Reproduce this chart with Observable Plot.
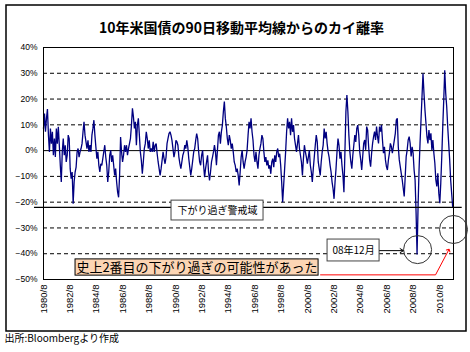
<!DOCTYPE html>
<html><head><meta charset="utf-8">
<script src="https://cdn.jsdelivr.net/npm/d3@7"></script>
<script src="https://cdn.jsdelivr.net/npm/@observablehq/plot@0.6"></script>
<style>body{margin:0;background:#fff} #chart{position:relative;width:470px;height:352px}</style>
</head><body><div id="chart"></div>
<script>
const title = "10年米国債の90日移動平均線からのカイ離率";
const caption = "出所:Bloombergより作成";
const yTicks = [40, 30, 20, 10, 0, -10, -20, -30, -40, -50];
const gridValues = [30, 20, 10, -10, -20, -30, -40];
const xTickYears = [1980, 1982, 1984, 1986, 1988, 1990, 1992, 1994, 1996, 1998, 2000, 2002, 2004, 2006, 2008, 2010];
const xTickLabels = ["1980/8","1982/8","1984/8","1986/8","1988/8","1990/8","1992/8","1994/8","1996/8","1998/8","2000/8","2002/8","2004/8","2006/8","2008/8","2010/8"];
const warningLevel = [-22];
const warningLabel = "下がり過ぎ警戒域";
const dec08Label = "08年12月";
const noteLabel = "史上2番目の下がり過ぎの可能性があった";

// deviation (%) sampled along the series, Aug 1980 -> Jul 2011
const seg1980s = [8.6,14.4,7.3,12.5,16.1,6.0,-0.5,8.6,2.7,7.3,
-1.8,4.7,-2.5,8.6,2.7,9.2,2.1,-5.7,-12.2,-0.5,
4.7,-1.8,2.1,-4.4,-1.8,6.0,4.7,-7.0,-10.9,-8.3,
-20.6,-12.2,-8.3,-6.4,-0.5,0.8,-2.5,-0.5,0.8,2.7,
7.3,11.2,6.0,3.4,0.8,4.0,-0.5,2.1,-0.5,6.0,
8.6,11.8,6.0,1.4,-3.1,-0.5,-5.7,-8.3,-5.1,-5.7,
-3.1,-0.5,2.1,-2.5,-5.7,-12.2,-8.3,-1.8,0.1,-4.4,
-1.8,-5.7,-9.6,-7.0,-12.2,-16.1,-18.1,-9.6,5.3,-0.5,
-4.4,-1.8,2.1,-0.5,2.1,-1.8,0.8,2.7,4.7,9.9,
16.4,13.1,8.6,11.2,2.1,9.9,12.5,6.0,-0.5,-3.8,
-9.0,-4.4,0.8,2.7,7.3,4.7,0.8,4.0,-0.5];
const seg1989 = [0.8,-0.5,3.4,-0.5,2.1,2.7,-1.2,-4.4,-7.0,-9.6,
-7.0,-3.8,-0.5,-3.1,-5.1,-2.5,2.7,4.7,6.6,7.3,
6.0,4.0,0.8,-2.5,-0.5,4.0,3.4,2.1,-2.5,-5.1,
-7.0,-4.4,-1.8,-0.5,2.1,0.8,4.0,1.4,-3.1,-6.4,
-9.6,-7.0,-3.8,-0.5,0.8,4.0,6.6,4.7,-0.5,-4.4,
-5.7,-1.8,0.1,-5.7,-10.3,-7.0,-4.4,-1.8,-8.3,-11.6,
-8.3,-4.4,-2.5,-0.5,2.1,-0.5,-5.7,0.1,6.0,7.3,
2.7,7.3,9.9,15.1,19.0,12.5,9.2,4.7,2.1,6.0,
4.0,0.8,2.7,-0.5,-4.4,-5.7,-8.3,-7.0,-9.6,-13.5,
-8.3,-2.5,0.1,-4.4,-7.0,-4.4,-2.5,0.1,6.0,11.2,
8.6,12.5,7.3,4.0,-1.8,-4.4];
const seg1997 = [-0.5,-4.4,-7.0,-1.8,0.8,2.7,6.0,4.7,-0.5,-4.4,
-2.5,-5.7,-3.8,-7.0,-5.7,-9.0,-4.4,-3.1,-6.4,-1.8,
-4.4,-0.5,0.8,-2.5,-1.2,-5.7,-12.2,-20.0,-13.5,-7.0,
-0.5,7.3,12.5,8.6,11.2,6.0,12.5,7.3,9.9,4.7,
2.1,-0.5,2.7,6.0,0.8,-1.8,-4.4,-9.6,-3.1,2.1,
-0.5,-2.5,-5.1,-2.5,0.1,-5.7,-8.3,-12.2,-7.0,-2.5,
2.1,6.0,3.4,-4.4,-7.0,-9.6,-4.4,-0.5,2.1,8.6,
4.7,7.3,2.7,-0.5,-2.5,-5.7,-8.3,-12.2,-14.8,-18.7,
-12.2,-7.0,-0.5,4.7,2.1,-3.1,-0.5,-5.7,-9.6,-16.1,
-0.5,15.1,21.6,15.1,6.0,-0.5,-4.4,-7.0,-1.8,2.1,
6.0,3.4,8.6,9.9,6.0,-0.5];
const seg2004 = [-3.6,-7.5,-2.3,2.8,4.1,0.3,9.3,8.0,1.5,-3.6,
-6.2,-1.0,2.8,5.4,7.4,4.1,9.3,5.4,2.8,9.3,
7.4,9.9,4.1,-1.0,1.5,-3.6,-6.2,-7.5,-3.6,-1.0,
2.8,1.5,-1.0,1.5,4.1,6.7,11.9,12.5,1.5,-3.6,
-6.2,-8.8,-11.4,-14.6,-17.8,-10.1,-2.3,0.3,4.1,5.4,
2.8,-2.3,1.5,-1.0,-7.5,-11.4,-24.0,-40.3,-22.0,-7.5,
2.8,11.9,20.9,29.9,22.2,15.7,10.6,5.4,2.8,8.0,
4.1,6.7,0.3,4.1,-1.0,-4.9,-11.4,-13.9,-8.8,-16.5,
-20.4,-12.6,-2.3,9.3,19.6,31.2,22.2,17.0,9.3,2.8,
-3.6,-11.4,-16.5,-21.7];

const startYear = 1980 + 7/12;
const endYear = 2011 + 6.9/12;
const values = [...seg1980s, ...seg1989, ...seg1997, ...seg2004];
const series = values.map((v, i) => ({t: startYear + i * (endYear - startYear) / (values.length - 1), v}));
const tickPos = xTickYears.map(y => y + 7/12);
const labelOf = new Map(tickPos.map((p, i) => [p, xTickLabels[i]]));

const jp = "'Noto Sans CJK JP', sans-serif";
const plot = Plot.plot({
  width: 470, height: 352,
  marginLeft: 43, marginRight: 17, marginTop: 47, marginBottom: 73,
  style: {fontFamily: "'Liberation Sans', Arial, sans-serif", fontSize: "8.5px", color: "#000", background: "#fff"},
  x: {domain: [startYear, 2011.64], axis: null},
  y: {domain: [-50, 40], axis: null},
  marks: [
    Plot.ruleY(gridValues, {stroke: "#000", strokeDasharray: "4,3", strokeWidth: 1}),
    Plot.ruleY([0], {stroke: "#000", strokeWidth: 1}),
    Plot.line(series, {x: "t", y: "v", stroke: "#000080", strokeWidth: 1.3, strokeLinejoin: "miter", strokeMiterlimit: 2}),
    Plot.frame({stroke: "#000", strokeWidth: 1}),
    Plot.ruleY(warningLevel, {x1: 1979.9, x2: 2012.3, stroke: "#000", strokeWidth: 1.3}),
    Plot.axisY(yTicks, {tickSize: 0, tickPadding: 6, fontSize: 8.5,
      tickFormat: d => (d < 0 ? "−" : "") + Math.abs(d) + "%"}),
    Plot.axisX(tickPos, {tickSize: 0, tickPadding: 5, tickRotate: -90, fontSize: 9.5,
      tickFormat: d => labelOf.get(d)}),
    // warning zone label box
    Plot.rect([{x1: 1990.28, x2: 1997.25, y1: -19.4, y2: -27.1}], {x1: "x1", x2: "x2", y1: "y1", y2: "y2", fill: "#fff", stroke: "#444", strokeWidth: 1}),
    Plot.text([warningLabel], {x: 1993.77, y: -23.2, fontFamily: jp, fontSize: 10, fill: "#000"}),
    // Dec 2008 box + arrow + circles
    Plot.rect([{x1: 2002.1, x2: 2006.04, y1: -34.5, y2: -43.0}], {x1: "x1", x2: "x2", y1: "y1", y2: "y2", fill: "#fff", stroke: "#444", strokeWidth: 1}),
    Plot.text([dec08Label], {x: 2004.07, y: -38.8, fontFamily: jp, fontSize: 10, fill: "#000"}),
    Plot.arrow([{x1: 2006.04, y1: -38.8, x2: 2007.86, y2: -38.8}], {x1: "x1", y1: "y1", x2: "x2", y2: "y2", stroke: "#000", strokeWidth: 1, headLength: 6}),
    Plot.dot([{x: 2008.92, y: -38.4}, {x: 2011.64, y: -30.6}], {x: "x", y: "y", r: 14, stroke: "#333", fill: "none", strokeWidth: 1}),
    // note box
    Plot.rect([{x1: 1983.01, x2: 2001.42, y1: -42.2, y2: -48.5}], {x1: "x1", x2: "x2", y1: "y1", y2: "y2", fill: "#fcd5b4", stroke: "#000", strokeWidth: 1}),
    Plot.text([noteLabel], {x: 1992.21, y: -45.35, fontFamily: jp, fontSize: 13, fill: "#000"}),
    Plot.line([{x: 2001.57, y: -48.2}, {x: 2010.28, y: -48.2}, {x: 2011.27, y: -38.6}], {x: "x", y: "y", stroke: "#ff0000", strokeWidth: 1, markerEnd: "arrow"}),
    // title & caption
    Plot.text([title], {frameAnchor: "top", dx: -7, dy: -24, fontFamily: jp, fontWeight: "bold", fontSize: 14, fill: "#000"}),
    Plot.text([caption], {frameAnchor: "bottom-left", dx: -39, dy: 62, textAnchor: "start", fontFamily: jp, fontSize: 10, fill: "#000"})
  ]
});
d3.select(plot).insert("rect", ":first-child")
  .attr("x", 6).attr("y", 5).attr("width", 460).attr("height", 326)
  .attr("fill", "none").attr("stroke", "#000").attr("stroke-width", 1.5);
document.getElementById("chart").appendChild(plot);
</script>
</body></html>
